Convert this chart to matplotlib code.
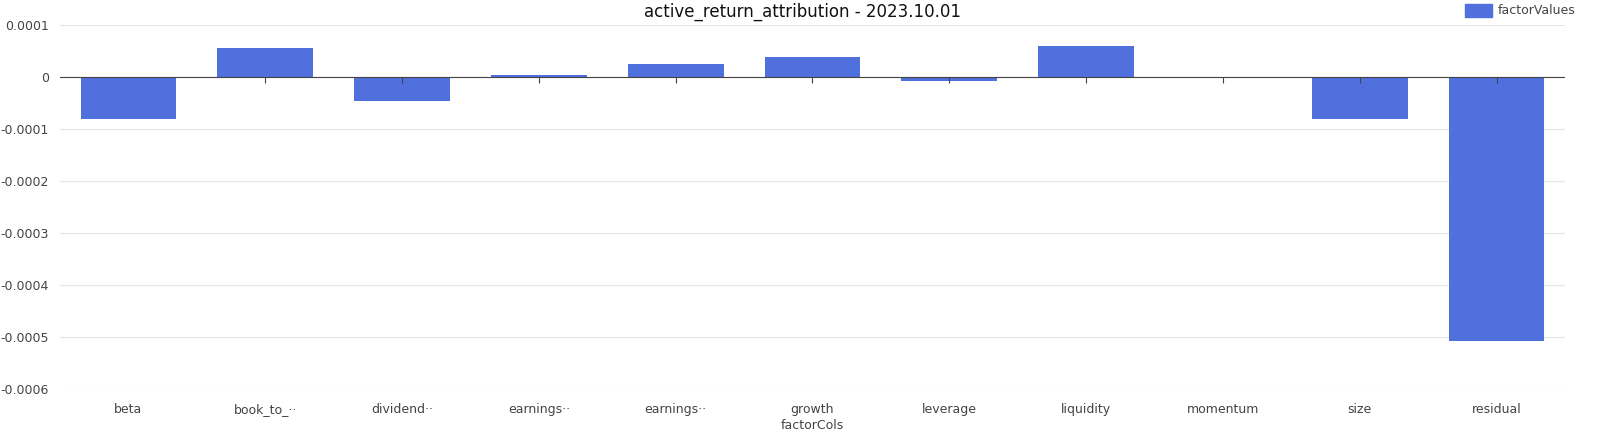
import matplotlib
matplotlib.use("Agg")
import matplotlib.pyplot as plt
import numpy as np

categories = ["beta", "book_to_··", "dividend··", "earnings··", "earnings··", "growth",
              "leverage", "liquidity", "momentum", "size", "residual"]
values = [-0.000081, 0.000056, -0.000046, 0.000003, 0.000025, 0.000038,
          -0.000008, 0.00006, -0.000002, -0.00008, -0.000508]
yticks = [0.0001, 0, -0.0001, -0.0002, -0.0003, -0.0004, -0.0005, -0.0006]
ylabels = ["0.0001", "0", "-0.0001", "-0.0002", "-0.0003", "-0.0004", "-0.0005", "-0.0006"]

fig = plt.figure(figsize=(16.06, 4.44), dpi=100)
ax = fig.add_axes([60/1606, 1-389/444, (1565-60)/1606, (389-25)/444])
x = np.arange(len(categories))
ax.bar(x, values, width=0.7, color="#5070dd", zorder=3)
ax.set_xlim(-0.5, len(categories)-0.5)
ax.set_ylim(-0.0006, 0.0001)
ax.set_yticks(yticks)
ax.set_yticklabels(ylabels, fontsize=9, color="#444")
ax.set_xticks(x)
ax.set_xticklabels(categories, fontsize=9, color="#444")
ax.tick_params(axis="both", length=0, pad=10)
ax.tick_params(axis="y", pad=8)
ax.grid(axis="y", color="#e6e6e6", lw=0.8, zorder=0)
for s in ax.spines.values():
    s.set_visible(False)
ax.axhline(0, color="#444", lw=0.8, zorder=4)
ax.vlines(x[1:], -0.000012, 0, color="#444", lw=0.8, zorder=4)
ax.set_xlabel("factorCols", fontsize=9, color="#444", labelpad=2)
fig.text(0.5, 1-12/444, "active_return_attribution - 2023.10.01", ha="center", va="center", fontsize=12, color="#111")
fig.patches.append(plt.Rectangle((1465/1606, 1-17/444), 27/1606, 13/444, transform=fig.transFigure, color="#5070dd"))
fig.text(1498/1606, 1-11/444, "factorValues", va="center", fontsize=9, color="#444")
fig.savefig("out.png")
